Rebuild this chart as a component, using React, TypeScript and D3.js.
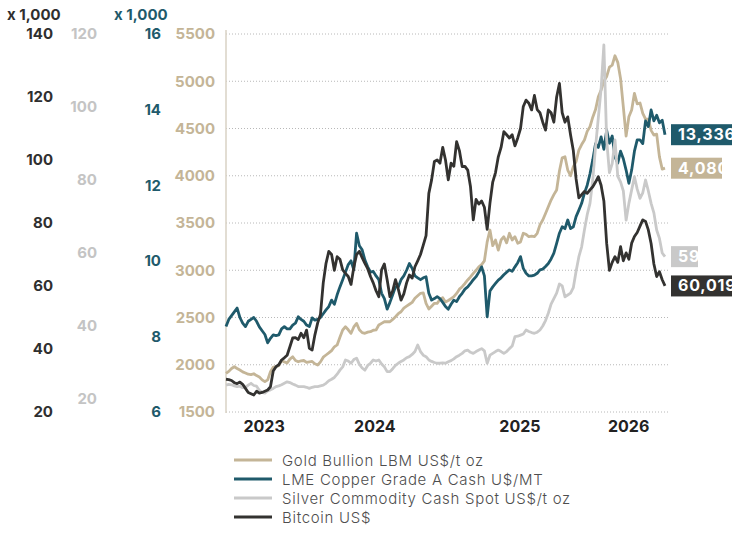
import React, { useEffect, useRef } from 'react';
import * as d3 from 'd3';

// weekly samples, first one on 23 Jun 2023
const startDate = new Date(2023, 5, 23);
const stepDays = 7;

const gold = [
    1909, 1930, 1960, 1979, 1960, 1944, 1925, 1913, 1900, 1895,
    1905, 1885, 1870, 1840, 1821, 1840, 1926, 1975, 1979, 1990,
    2045, 2030, 2018, 2060, 2085, 2045, 2032, 2040, 2045, 2025,
    2030, 2035, 2010, 1997, 2030, 2080, 2103, 2125, 2150, 2190,
    2210, 2290, 2368, 2402, 2370, 2333, 2400, 2438, 2370, 2340,
    2333, 2345, 2350, 2365, 2368, 2420, 2438, 2455, 2455, 2455,
    2480, 2508, 2540, 2561, 2600, 2620, 2640, 2660, 2703, 2730,
    2756, 2760, 2650, 2590, 2620, 2650, 2650, 2690, 2710, 2665,
    2680, 2700, 2720, 2755, 2800, 2826, 2860, 2897, 2930, 2967,
    3000, 3037, 3060, 3100, 3300, 3426, 3260, 3320, 3214, 3320,
    3355, 3290, 3391, 3320, 3355, 3285, 3300, 3391, 3380, 3355,
    3360, 3355, 3391, 3480, 3531, 3600, 3672, 3743, 3800, 3850,
    4050, 4190, 4201, 4060, 4000, 4095, 4150, 4272, 4330, 4378,
    4470, 4520, 4620, 4700, 4836, 4907, 5000, 5050, 5150, 5170,
    5270, 5200, 5030, 4730, 4420, 4624, 4695, 4872, 4760, 4770,
    4660, 4600, 4600, 4480, 4430, 4440, 4200, 4070, 4080,
];

// x 1,000
const copper = [
    8.26, 8.45, 8.55, 8.65, 8.75, 8.5, 8.35, 8.26, 8.4, 8.45,
    8.5, 8.4, 8.25, 8.15, 8.05, 7.83, 7.95, 8.04, 8.02, 8.04,
    8.2, 8.26, 8.2, 8.2, 8.3, 8.35, 8.52, 8.45, 8.4, 8.3,
    8.26, 8.49, 8.43, 8.45, 8.5, 8.6, 8.7, 8.79, 8.96, 8.85,
    9.1, 9.31, 9.5, 9.7, 9.9, 10.0, 9.76, 10.73, 10.4, 10.29,
    10.02, 9.84, 9.7, 9.72, 9.6, 9.5, 9.14, 9.0, 8.72, 8.9,
    9.1, 9.31, 9.31, 9.5, 9.6, 9.75, 9.93, 9.8, 9.6, 9.55,
    9.5, 9.55, 9.58, 9.14, 8.96, 9.0, 9.05, 9.0, 8.9, 8.79,
    8.72, 8.85, 8.96, 8.92, 9.05, 9.14, 9.25, 9.31, 9.4, 9.5,
    9.58, 9.7, 9.84, 9.6, 8.52, 9.2, 9.31, 9.4, 9.49, 9.55,
    9.63, 9.7, 9.76, 9.72, 9.84, 9.95, 10.11, 9.8, 9.67, 9.6,
    9.6, 9.62, 9.67, 9.76, 9.78, 9.85, 9.93, 10.05, 10.2, 10.46,
    10.73, 10.9, 10.85, 11.08, 10.85, 10.9, 11.17, 11.34, 11.52, 11.79,
    12.0, 12.3, 12.67, 13.1, 13.0, 13.28, 12.95, 13.45, 13.11, 13.3,
    12.75, 12.58, 12.9, 12.7, 12.4, 12.05, 12.4, 12.9, 13.2, 13.2,
    13.1, 13.7, 13.55, 13.99, 13.7, 13.85, 13.65, 13.72, 13.336,
];

const silver = [
    23.8, 24.0, 23.9, 23.6, 23.4, 23.5, 23.1, 23.2, 23.8, 24.3,
    23.7, 23.5, 22.4, 21.8, 21.6, 22.2, 22.5, 22.9, 23.4, 23.6,
    23.9, 24.3, 24.7, 24.5, 24.1, 23.8, 23.4, 23.4, 23.4, 23.2,
    22.9, 23.2, 23.4, 23.4, 23.6, 23.8, 24.3, 25.0, 25.4, 25.9,
    26.8, 27.9, 28.8, 30.7, 30.4, 29.8, 30.8, 31.2, 29.5, 28.5,
    27.9, 29.2, 29.8, 30.7, 30.4, 30.7, 29.6, 28.8, 27.5, 27.5,
    28.3, 29.2, 29.8, 30.3, 30.7, 31.3, 31.6, 32.2, 33.0, 34.8,
    33.0, 32.0, 31.6, 30.7, 30.3, 30.0, 29.8, 29.8, 29.9, 29.8,
    30.2, 30.5, 31.0, 31.6, 32.0, 32.5, 33.2, 33.4, 32.8, 32.5,
    33.0, 33.4, 33.8, 33.2, 29.8, 32.0, 32.5, 33.0, 33.4, 33.0,
    32.5, 33.0, 33.8, 34.5, 37.1, 37.2, 37.5, 37.8, 38.9, 38.5,
    38.2, 38.0, 38.3, 38.9, 40.0, 41.5, 43.5, 46.0, 47.5, 49.0,
    51.5, 51.0, 48.0, 48.5, 49.0, 50.5, 55.0, 59.0, 61.7, 66.3,
    70.5, 73.6, 80.0, 89.1, 97.0, 105.0, 117.0, 91.0, 82.0, 84.5,
    91.0, 81.0, 79.5, 77.0, 69.0, 73.6, 77.3, 80.9, 77.5, 75.0,
    76.5, 80.0, 77.0, 73.6, 71.0, 66.3, 64.0, 60.0, 59.0,
];

// x 1,000
const bitcoin = [
    30.4, 30.3, 30.0, 29.3, 29.0, 29.5, 28.8, 27.5, 26.2, 25.8,
    25.4, 26.6, 26.0, 26.2, 26.6, 27.0, 28.0, 33.0, 34.4, 35.0,
    36.5, 37.2, 38.0, 40.7, 43.5, 43.6, 43.0, 45.0, 43.6, 46.0,
    40.2, 39.7, 44.5, 48.3, 51.0, 61.0, 67.2, 71.0, 70.0, 65.0,
    69.3, 68.5, 65.1, 64.0, 63.0, 60.5, 66.0, 70.0, 71.0, 69.0,
    67.2, 65.5, 63.0, 61.0, 58.5, 56.6, 65.1, 67.0, 62.0, 56.6,
    58.5, 62.0, 59.0, 55.5, 57.5, 61.0, 63.5, 62.5, 66.1, 68.0,
    70.0, 73.0, 76.0, 89.4, 93.7, 99.5, 100.0, 99.0, 104.0, 100.0,
    93.7, 99.0, 98.0, 105.8, 103.0, 97.9, 98.0, 96.8, 91.5, 81.0,
    87.5, 86.0, 87.0, 85.0, 78.0, 86.3, 93.0, 96.0, 101.0, 104.0,
    109.0, 108.0, 107.0, 108.0, 104.5, 107.0, 110.0, 117.0, 119.0, 118.0,
    115.9, 120.5, 116.0, 115.0, 112.0, 109.5, 115.9, 115.0, 112.0, 120.0,
    124.3, 115.0, 112.0, 113.7, 108.0, 103.0, 94.0, 88.0, 89.0, 90.0,
    89.4, 90.5, 91.5, 93.0, 94.7, 92.0, 87.0, 73.6, 65.0, 67.5,
    69.3, 67.5, 72.5, 68.0, 70.5, 68.5, 73.6, 75.7, 77.0, 79.0,
    81.0, 80.5, 77.8, 73.5, 67.0, 63.0, 64.5, 62.0, 60.019,
];

const years = [2023, 2024, 2025, 2026];

const goldTicks = [1500, 2000, 2500, 3000, 3500, 4000, 4500, 5000, 5500];
const copperTicks = [6, 8, 10, 12, 14, 16];
const silverTicks = [20, 40, 60, 80, 100, 120];
const bitcoinTicks = [20, 40, 60, 80, 100, 120, 140];

const seriesNames = [
    'Gold Bullion LBM US$/t oz',
    'LME Copper Grade A Cash U$/MT',
    'Silver Commodity Cash Spot US$/t oz',
    'Bitcoin US$',
];
const lastLabels = ['4,080', '13,336', '59', '60,019'];

const GOLD = '#c4b597';
const COPPER = '#1f5a6b';
const SILVER = '#c9c9c9';
const BTC = '#333230';
const FONT = 'Inter, "Open Sans", sans-serif';

export default function App() {
    const svgRef = useRef<SVGSVGElement>(null);

    useEffect(() => {
        if (!svgRef.current) return;
        const svg = d3.select(svgRef.current);
        svg.selectAll('*').remove();

        const top = 34, bottom = 412, left = 226, right = 665;

        const dates = d3.range(gold.length).map(i => d3.timeDay.offset(startDate, i * stepDays));
        const x = d3.scaleTime()
            .domain([dates[0], dates[dates.length - 1]])
            .range([left, right]);

        const yGold = d3.scaleLinear().domain([1500, 5500]).range([bottom, top]);
        const yCopper = d3.scaleLinear().domain([6, 16]).range([bottom, top]);
        const ySilver = d3.scaleLinear().domain([20, 120]).range([399, top]);
        const yBtc = d3.scaleLinear().domain([20, 140]).range([bottom, top]);

        // grid lines (gold axis)
        svg.append('g')
            .selectAll('line')
            .data(goldTicks)
            .join('line')
            .attr('x1', left)
            .attr('x2', 669)
            .attr('y1', d => yGold(d))
            .attr('y2', d => yGold(d))
            .attr('stroke', '#b8b8b8')
            .attr('stroke-width', 1)
            .attr('stroke-dasharray', '1,2');

        svg.append('line')
            .attr('x1', left).attr('x2', left)
            .attr('y1', 30).attr('y2', bottom + 1)
            .attr('stroke', '#d8d2c4')
            .attr('stroke-width', 1.5);

        // y axes
        const axes: [d3.ScaleLinear<number, number>, number[], number, string][] = [
            [yBtc, bitcoinTicks, 53, '#2f2f2f'],
            [ySilver, silverTicks, 97, '#c4c4c4'],
            [yCopper, copperTicks, 161, COPPER],
            [yGold, goldTicks, 215, GOLD],
        ];
        axes.forEach(([scale, ticks, xPos, color]) => {
            const g = svg.append('g')
                .attr('transform', `translate(${xPos},0)`)
                .call(d3.axisLeft(scale).tickValues(ticks).tickSize(0).tickPadding(0).tickFormat(d3.format('d')));
            g.select('.domain').remove();
            g.selectAll('text')
                .attr('fill', color)
                .style('font-family', FONT)
                .style('font-size', '15px')
                .style('font-weight', 700);
        });

        svg.append('text')
            .attr('x', 7).attr('y', 20)
            .attr('fill', '#2f2f2f')
            .style('font-family', FONT).style('font-size', '15px').style('font-weight', 700)
            .text('x 1,000');
        svg.append('text')
            .attr('x', 114).attr('y', 20)
            .attr('fill', COPPER)
            .style('font-family', FONT).style('font-size', '15px').style('font-weight', 700)
            .text('x 1,000');

        // year labels centred on the visible part of each year
        const [d0, d1] = x.domain();
        svg.append('g')
            .selectAll('text')
            .data(years)
            .join('text')
            .attr('x', yr => {
                const a = Math.max(+new Date(yr, 0, 1), +d0);
                const b = Math.min(+new Date(yr + 1, 0, 1), +d1);
                return (x(new Date(a)) + x(new Date(b))) / 2;
            })
            .attr('y', 432)
            .attr('text-anchor', 'middle')
            .attr('fill', '#222')
            .style('font-family', FONT).style('font-size', '16px').style('font-weight', 700)
            .text(yr => String(yr));

        // lines
        const series = [
            { values: gold, y: yGold, color: GOLD, box: 51 },
            { values: copper, y: yCopper, color: COPPER, box: 61 },
            { values: silver, y: ySilver, color: SILVER, box: 27 },
            { values: bitcoin, y: yBtc, color: BTC, box: 61 },
        ];

        series.forEach(s => {
            const line = d3.line<number>()
                .x((_, i) => x(dates[i]))
                .y(d => s.y(d));
            svg.append('path')
                .datum(s.values)
                .attr('d', line)
                .attr('fill', 'none')
                .attr('stroke', s.color)
                .attr('stroke-width', 2.8)
                .attr('stroke-linejoin', 'round');
        });

        // end value boxes, text clipped to the box
        series.forEach((s, i) => {
            const yy = s.y(s.values[s.values.length - 1]);
            const clipId = `clip-${i}`;
            svg.append('clipPath')
                .attr('id', clipId)
                .append('rect')
                .attr('x', 671).attr('y', yy - 10.5)
                .attr('width', s.box).attr('height', 21);
            svg.append('rect')
                .attr('x', 671).attr('y', yy - 10.5)
                .attr('width', s.box).attr('height', 21)
                .attr('fill', s.color);
            svg.append('text')
                .attr('clip-path', `url(#${clipId})`)
                .attr('x', 678).attr('y', yy + 5.5)
                .attr('fill', '#fff')
                .style('font-family', FONT).style('font-size', '16px').style('font-weight', 700)
                .style('letter-spacing', '0.8px')
                .text(lastLabels[i]);
        });

        // legend
        const legend = svg.append('g');
        series.forEach((s, i) => {
            const ly = 460 + i * 19;
            legend.append('line')
                .attr('x1', 234).attr('x2', 272)
                .attr('y1', ly).attr('y2', ly)
                .attr('stroke', s.color)
                .attr('stroke-width', 3);
            legend.append('text')
                .attr('x', 282).attr('y', ly + 5.5)
                .attr('fill', '#4e4e4e')
                .style('font-family', FONT)
                .style('font-size', '15px')
                .style('font-weight', 300)
                .style('letter-spacing', '0.7px')
                .text(seriesNames[i]);
        });
    }, []);

    return (
        <div style={{ position: 'absolute', left: 0, top: 0 }}>
            <svg ref={svgRef} width={741} height={533} />
        </div>
    );
}
